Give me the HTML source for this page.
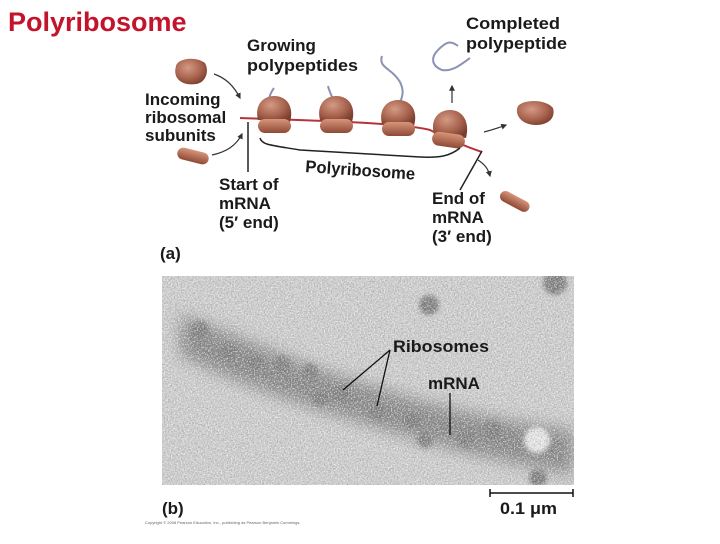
<!DOCTYPE html>
<html><head><meta charset="utf-8"><style>
body{margin:0;background:#fff;width:720px;height:539px;overflow:hidden}
text{font-family:"Liberation Sans",Arial,Helvetica,sans-serif;font-weight:bold;fill:#1a1a1a}
</style></head><body>
<svg width="720" height="539" viewBox="0 0 720 539" font-family="Liberation Sans, Arial, sans-serif">
<defs>
<radialGradient id="rb" cx="40%" cy="35%" r="70%"><stop offset="0" stop-color="#d49a84"/><stop offset="0.6" stop-color="#a8634e"/><stop offset="1" stop-color="#7a3e2e"/></radialGradient>
<linearGradient id="sb" x1="0" y1="0" x2="0" y2="1"><stop offset="0" stop-color="#d8957a"/><stop offset="1" stop-color="#8e4a36"/></linearGradient>
<filter id="bl" x="-20%" y="-50%" width="140%" height="200%"><feGaussianBlur stdDeviation="8"/></filter>
<filter id="bl2"><feGaussianBlur stdDeviation="2"/></filter>
<filter id="noise" x="0" y="0" width="100%" height="100%"><feTurbulence type="fractalNoise" baseFrequency="0.7" numOctaves="2" seed="3"/><feColorMatrix type="matrix" values="0 0 0 0 0.35 0 0 0 0 0.35 0 0 0 0 0.35 4 0 0 0 -1.8"/></filter>
<filter id="noise2" x="0" y="0" width="100%" height="100%"><feTurbulence type="fractalNoise" baseFrequency="0.7" numOctaves="2" seed="9"/><feColorMatrix type="matrix" values="0 0 0 0 1 0 0 0 0 1 0 0 0 0 1 4 0 0 0 -1.9"/></filter>
<clipPath id="mc"><rect x="162" y="276" width="412" height="209"/></clipPath>
<marker id="ar" viewBox="0 0 10 10" refX="8" refY="5" markerWidth="5" markerHeight="5" orient="auto"><path d="M0,0 L10,5 L0,10z" fill="#333"/></marker>
</defs>
<text x="8" y="31" font-size="27" style="fill:#c4142c">Polyribosome</text>
<g font-size="17">
<text x="247" y="51">Growing</text><text x="247" y="71" textLength="111" lengthAdjust="spacingAndGlyphs">polypeptides</text>
<text x="466" y="29" textLength="94" lengthAdjust="spacingAndGlyphs">Completed</text><text x="466" y="49" textLength="101" lengthAdjust="spacingAndGlyphs">polypeptide</text>
<text x="145" y="105">Incoming</text><text x="145" y="123">ribosomal</text><text x="145" y="141">subunits</text>
<text x="305" y="172" transform="rotate(4 305 172)" textLength="110" lengthAdjust="spacingAndGlyphs">Polyribosome</text>
<text x="219" y="190">Start of</text><text x="219" y="209">mRNA</text><text x="219" y="228">(5′ end)</text>
<text x="432" y="204">End of</text><text x="432" y="223">mRNA</text><text x="432" y="242">(3′ end)</text>
<text x="160" y="259">(a)</text>
</g>
<g fill="none" stroke="#8c92b4" stroke-width="2">
<path d="M272,118 C266,108 268,96 274,88"/>
<path d="M335,118 C338,105 330,95 328,86"/>
<path d="M396,120 C395,104 408,98 400,82 C392,68 378,68 382,56"/>
<path d="M438,50 C430,58 432,66 442,70 C452,72 462,64 470,58"/>
<path d="M438,50 C446,42 450,40 458,46"/>
</g>
<path d="M240,118 C290,120 400,122 430,130 C450,140 470,148 482,152" fill="none" stroke="#b8323a" stroke-width="2"/>
<g>
<path d="M258,120 C254,104 264,96 274,96 C288,96 294,108 290,122 Z" fill="url(#rb)"/><rect x="258" y="119" width="33" height="14" rx="7" fill="url(#sb)"/>
<path d="M320,120 C316,104 326,96 336,96 C350,96 356,108 352,122 Z" fill="url(#rb)"/><rect x="320" y="119" width="33" height="14" rx="7" fill="url(#sb)"/>
<path d="M382,124 C378,108 388,100 398,100 C412,100 418,112 414,126 Z" fill="url(#rb)"/><rect x="382" y="122" width="33" height="14" rx="7" fill="url(#sb)"/>
<path d="M434,134 C430,120 438,110 450,110 C463,110 470,122 466,138 Z" fill="url(#rb)"/><rect x="432" y="133" width="33" height="14" rx="7" fill="url(#sb)" transform="rotate(8 448 140)"/>
<path d="M176,66 C178,58 196,56 205,63 C210,72 205,83 196,84 C184,86 172,80 176,66Z" fill="url(#rb)"/>
<rect x="177" y="150" width="32" height="12" rx="6" fill="url(#sb)" transform="rotate(14 193 156)"/>
<path d="M518,106 C524,99 546,99 553,108 C556,119 547,125 536,125 C521,125 514,114 518,106Z" fill="url(#rb)"/>
<rect x="499" y="196" width="32" height="11" rx="5.5" fill="url(#sb)" transform="rotate(28 515 201)"/>
</g>
<g stroke="#222" stroke-width="1.5" fill="none">
<path d="M248,122 V172"/>
<path d="M482,151 L460,190"/>
<path d="M260,138 C262,145 270,145 300,150 L420,157 C440,158 450,156 460,148"/>
</g>
<g stroke="#333" stroke-width="1.2" fill="none" marker-end="url(#ar)">
<path d="M214,74 C226,78 234,86 240,98"/>
<path d="M212,155 C226,152 236,146 242,134"/>
<path d="M484,132 C492,130 498,128 506,125"/>
<path d="M478,160 C484,164 488,168 490,176"/>
<path d="M452,103 V86"/>
</g>
<g clip-path="url(#mc)">
<rect x="162" y="276" width="412" height="209" fill="#cdcdcd"/>
<path d="M180,315 C240,335 300,365 360,382 C420,402 480,418 574,430 L574,475 C500,462 430,445 370,425 C300,405 240,385 180,355Z" fill="#666" filter="url(#bl)" opacity="0.75"/>
<g fill="#777" filter="url(#bl2)">
<circle cx="200" cy="330" r="9"/><circle cx="228" cy="352" r="8"/><circle cx="254" cy="362" r="8"/><circle cx="282" cy="364" r="8"/><circle cx="310" cy="372" r="8"/><circle cx="320" cy="398" r="8"/><circle cx="342" cy="393" r="8"/><circle cx="378" cy="413" r="8"/><circle cx="412" cy="420" r="8"/><circle cx="425" cy="440" r="8"/><circle cx="466" cy="440" r="8"/><circle cx="492" cy="430" r="9"/><circle cx="429" cy="305" r="10"/><circle cx="555" cy="283" r="12"/><circle cx="538" cy="478" r="9"/>
</g>
<circle cx="537" cy="440" r="13" fill="#e8e8e8" filter="url(#bl2)"/>
<rect x="162" y="276" width="412" height="209" fill="#000" filter="url(#noise)" opacity="0.6"/>
<rect x="162" y="276" width="412" height="209" fill="#000" filter="url(#noise2)" opacity="0.6"/>
</g>
<g stroke="#111" stroke-width="1.3"><path d="M390,350 L343,390 M390,350 L377,406 M450,393 L450,435"/></g>
<g font-size="17"><text x="393" y="352" textLength="96" lengthAdjust="spacingAndGlyphs">Ribosomes</text><text x="428" y="389">mRNA</text>
<text x="162" y="514">(b)</text><text x="500" y="514" textLength="57" lengthAdjust="spacingAndGlyphs">0.1 μm</text></g>
<path d="M490,493 H573 M490,489 V497 M573,489 V497" stroke="#111" stroke-width="1.5"/>
<text x="145" y="524" font-size="4" style="font-weight:normal;fill:#666">Copyright © 2008 Pearson Education, Inc., publishing as Pearson Benjamin Cummings.</text>
</svg>
</body></html>
